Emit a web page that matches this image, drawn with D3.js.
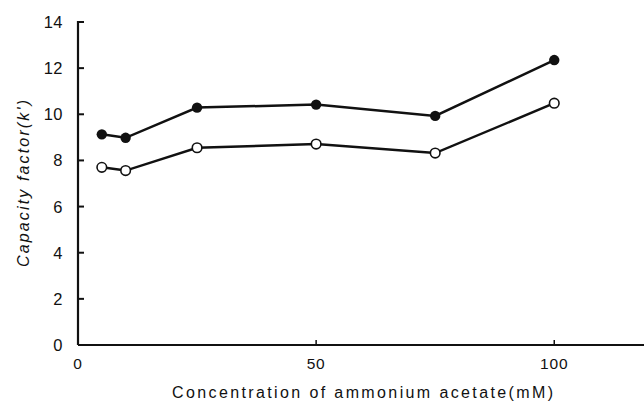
<!DOCTYPE html>
<html>
<head>
<meta charset="utf-8">
<script src="https://cdn.jsdelivr.net/npm/d3@7"></script>
<style>
  body { margin: 0; background: #fff; }
  svg { display: block; }
  text { font-family: "Liberation Sans", Arial, sans-serif; fill: #111; }
</style>
</head>
<body>
<svg id="chart" width="644" height="405"></svg>
<script>
// donnees
const concentrations = [5, 10, 25, 50, 75, 100]
const filledSeries = [9.13, 8.98, 10.29, 10.42, 9.93, 12.35]
const openSeries = [7.70, 7.56, 8.55, 8.71, 8.32, 10.48]
const xTicks = [0, 50, 100]
const yTicks = [0, 2, 4, 6, 8, 10, 12, 14]

const svg = d3.select('#chart')
const x = d3.scaleLinear().domain([0, 120]).range([78, 649.5])
const y = d3.scaleLinear().domain([0, 14]).range([345, 22])

// axes
svg.append('line')
  .attr('x1', x(0)).attr('x2', 644)
  .attr('y1', y(0)).attr('y2', y(0))
  .attr('stroke', '#111').attr('stroke-width', 2.2)
svg.append('line')
  .attr('x1', x(0)).attr('x2', x(0))
  .attr('y1', y(0)).attr('y2', y(14) - 1)
  .attr('stroke', '#111').attr('stroke-width', 2.2)

// graduations vers l'interieur
svg.selectAll('.ytick').data(yTicks.filter(d => d > 0)).enter()
  .append('line').attr('class', 'ytick')
  .attr('x1', x(0)).attr('x2', x(0) + 6)
  .attr('y1', d => y(d)).attr('y2', d => y(d))
  .attr('stroke', '#111').attr('stroke-width', 2)
svg.selectAll('.xtick').data(xTicks.filter(d => d > 0)).enter()
  .append('line').attr('class', 'xtick')
  .attr('x1', d => x(d)).attr('x2', d => x(d))
  .attr('y1', y(0)).attr('y2', y(0) - 5)
  .attr('stroke', '#111').attr('stroke-width', 1.5)

svg.selectAll('.ylab').data(yTicks).enter()
  .append('text').attr('class', 'ylab')
  .attr('x', 63).attr('y', d => y(d) + 6)
  .attr('text-anchor', 'end')
  .attr('font-size', 16.5)
  .attr('letter-spacing', 0.5)
  .text(d => d)
svg.selectAll('.xlab').data(xTicks).enter()
  .append('text').attr('class', 'xlab')
  .attr('x', d => x(d)).attr('y', 369)
  .attr('text-anchor', 'middle')
  .attr('font-size', 15.5)
  .attr('letter-spacing', 0.8)
  .text(d => d)

// titres des axes
svg.append('text')
  .attr('x', 172).attr('y', 398)
  .attr('font-size', 16)
  .attr('textLength', 381).attr('lengthAdjust', 'spacing')
  .text('Concentration of ammonium acetate(mM)')
svg.append('text')
  .attr('transform', 'translate(29,267) rotate(-90)')
  .attr('font-size', 16).attr('font-style', 'italic')
  .attr('textLength', 167).attr('lengthAdjust', 'spacing')
  .text("Capacity factor(k')")

// courbes
const line = d3.line().x((d, i) => x(concentrations[i])).y(d => y(d))
;[filledSeries, openSeries].forEach(s => {
  svg.append('path').datum(s)
    .attr('d', line)
    .attr('fill', 'none').attr('stroke', '#111').attr('stroke-width', 2.5)
})

svg.selectAll('.filled').data(filledSeries).enter()
  .append('circle').attr('class', 'filled')
  .attr('cx', (d, i) => x(concentrations[i])).attr('cy', d => y(d))
  .attr('r', 5.2).attr('fill', '#111')
svg.selectAll('.open').data(openSeries).enter()
  .append('circle').attr('class', 'open')
  .attr('cx', (d, i) => x(concentrations[i])).attr('cy', d => y(d))
  .attr('r', 4.8).attr('fill', '#fff').attr('stroke', '#111').attr('stroke-width', 1.6)
</script>
</body>
</html>
